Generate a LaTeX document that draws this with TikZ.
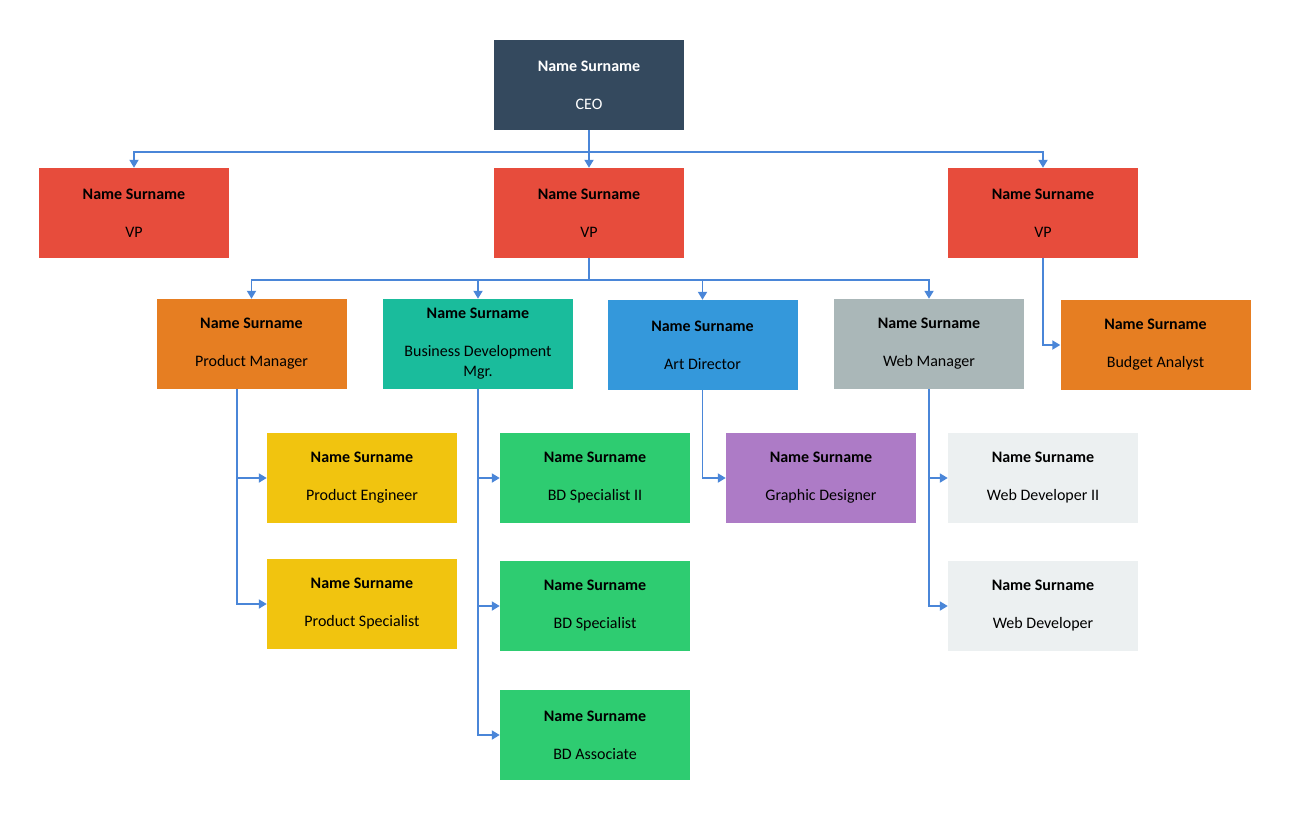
\documentclass[tikz,border=0pt]{standalone}
\usepackage{fontspec}
\setmainfont{Carlito}
\usetikzlibrary{arrows.meta}

\definecolor{ceoblue}{HTML}{34495E}
\definecolor{vpred}{HTML}{E74C3C}
\definecolor{mgrorange}{HTML}{E67E22}
\definecolor{bdteal}{HTML}{1ABC9C}
\definecolor{artblue}{HTML}{3498DB}
\definecolor{webgray}{HTML}{AAB7B8}
\definecolor{engyellow}{HTML}{F1C40F}
\definecolor{bdgreen}{HTML}{2ECC71}
\definecolor{gdpurple}{HTML}{AD7BC6}
\definecolor{devgray}{HTML}{ECF0F1}
\definecolor{linkblue}{HTML}{4A86D8}

\newcommand{\card}[2]{\textbf{#1}\\[18pt]#2}

\begin{document}
\begin{tikzpicture}[x=1pt,y=-1pt,
    box/.style={minimum width=190pt,minimum height=90pt,inner sep=0pt,align=center,
      font=\fontsize{16}{20}\selectfont,text=black},
    link/.style={linkblue,line width=1.8pt},
    arr/.style={link,-{Triangle[length=8pt,width=9pt]}}]
    \useasboundingbox (0,0) rectangle (1289,819);

    \node[box,fill=ceoblue,text=white](ceo) at(589,85){\card{Name Surname}{CEO}};

    \node[box,fill=vpred](vpa) at(134,213){\card{Name Surname}{VP}};
    \node[box,fill=vpred](vpb) at(589,213){\card{Name Surname}{VP}};
    \node[box,fill=vpred](vpc) at(1043,213){\card{Name Surname}{VP}};

    \node[box,fill=mgrorange](pm) at(251.5,344){\card{Name Surname}{Product Manager}};
    \node[box,fill=bdteal](bdm) at(478,344){\textbf{Name Surname}\\[18pt]Business Development\\Mgr.};
    \node[box,fill=artblue](ad) at(702.5,345){\card{Name Surname}{Art Director}};
    \node[box,fill=webgray](wm) at(929,344){\card{Name Surname}{Web Manager}};
    \node[box,fill=mgrorange](ba) at(1155.5,345){\card{Name Surname}{Budget Analyst}};

    \node[box,fill=engyellow](pe) at(362,478){\card{Name Surname}{Product Engineer}};
    \node[box,fill=engyellow](ps) at(362,604){\card{Name Surname}{Product Specialist}};

    \node[box,fill=bdgreen](bds) at(595,478){\card{Name Surname}{BD Specialist II}};
    \node[box,fill=bdgreen](bdt) at(595,606){\card{Name Surname}{BD Specialist}};
    \node[box,fill=bdgreen](bda) at(595,735){\card{Name Surname}{BD Associate}};

    \node[box,fill=gdpurple](gd) at(821,478){\card{Name Surname}{Graphic Designer}};

    \node[box,fill=devgray](wds) at(1043,478){\card{Name Surname}{Web Developer II}};
    \node[box,fill=devgray](wd) at(1043,606){\card{Name Surname}{Web Developer}};

    \coordinate(bustop) at(589,152);
    \coordinate(busmid) at(589,280);
    \coordinate(pmdrop) at(237,389);

    \draw[link](ceo.south)--(bustop);
    \draw[arr](bustop)-|(vpa.north);
    \draw[arr](bustop)-|(vpc.north);
    \draw[arr](bustop)--(vpb.north);

    \draw[link](vpb.south)--(busmid);
    \draw[arr](busmid)-|(pm.north);
    \draw[arr](busmid)-|(bdm.north);
    \draw[arr](busmid)-|(ad.north);
    \draw[arr](busmid)-|(wm.north);
    \draw[arr](vpc.south)|-(ba.west);

    \draw[arr](pmdrop)|-(pe.west);
    \draw[arr](pmdrop)|-(ps.west);
    \draw[arr](bdm.south)|-(bds.west);
    \draw[arr](bdm.south)|-(bdt.west);
    \draw[arr](bdm.south)|-(bda.west);
    \draw[arr](ad.south)|-(gd.west);
    \draw[arr](wm.south)|-(wds.west);
    \draw[arr](wm.south)|-(wd.west);
\end{tikzpicture}
\end{document}
